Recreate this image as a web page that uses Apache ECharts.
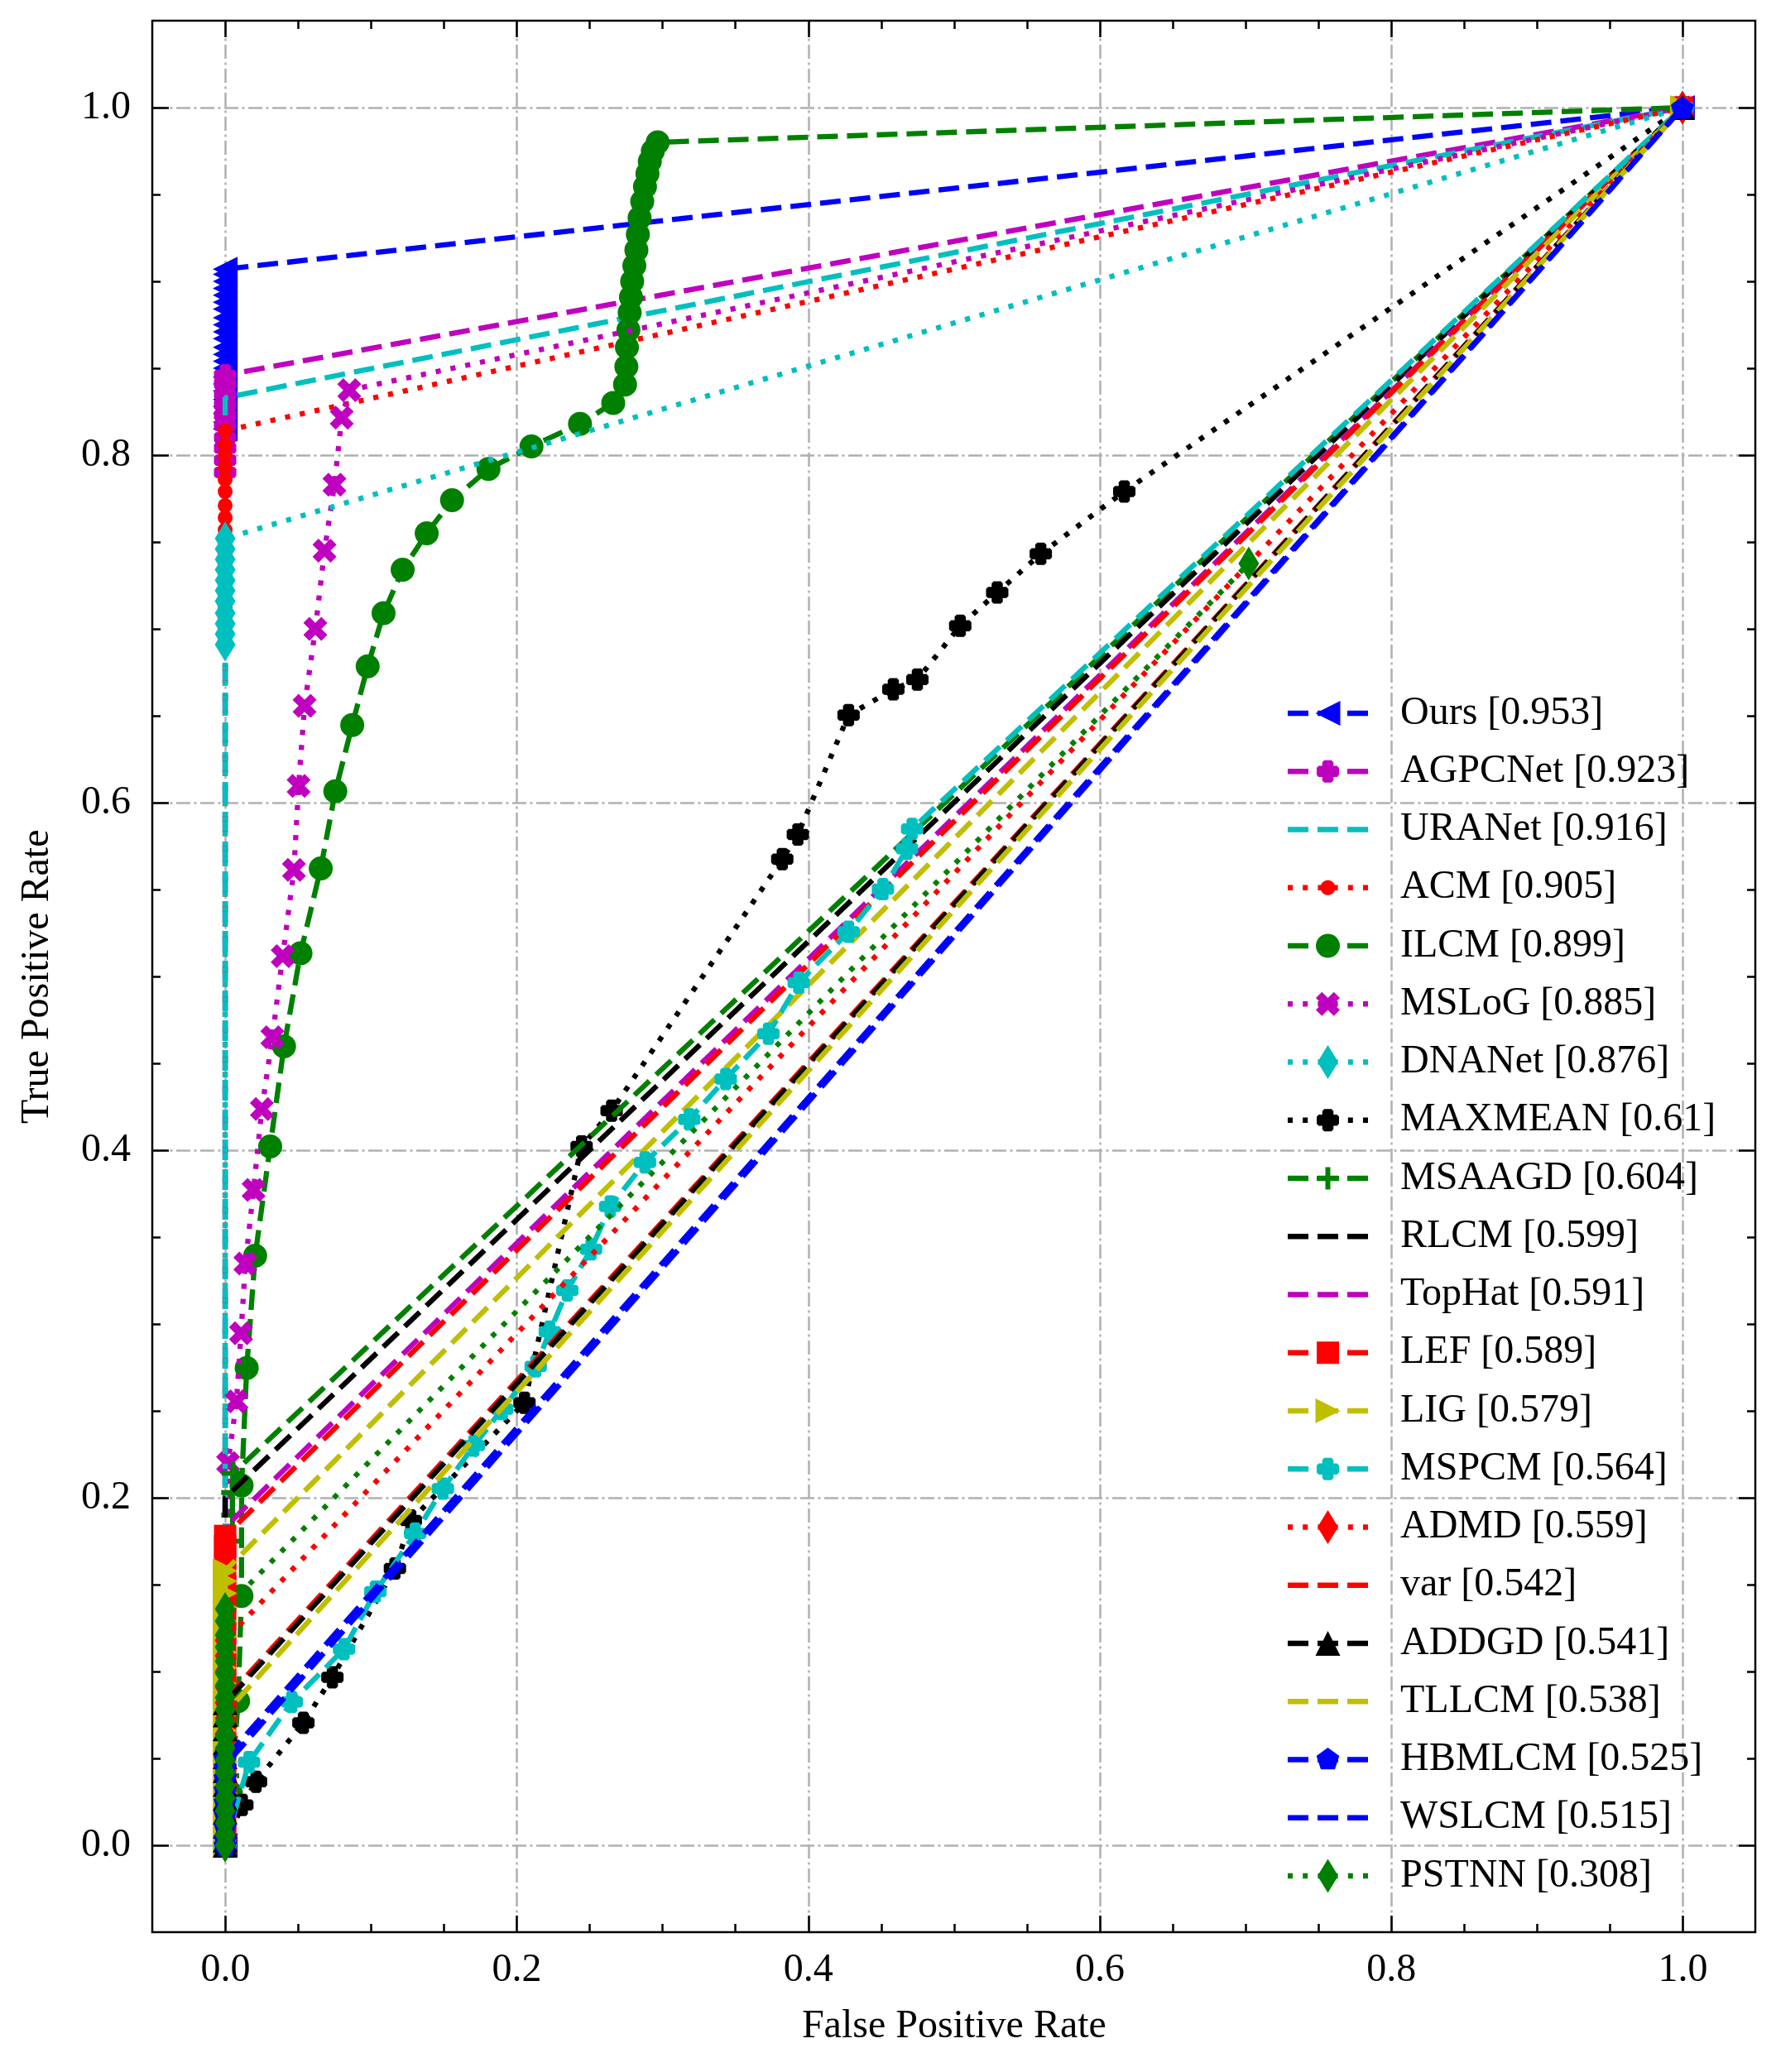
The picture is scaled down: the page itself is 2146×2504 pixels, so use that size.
<!DOCTYPE html>
<html><head><meta charset="utf-8">
<script src="https://cdn.jsdelivr.net/npm/echarts@6/dist/echarts.min.js"></script>
<style>html,body{margin:0;padding:0;background:#fff}#c{width:2146px;height:2504px}</style>
</head><body><div id="c"></div>
<script>
// ---------------- DATA ----------------
const NAMES = ['Ours','AGPCNet','URANet','ACM','ILCM','MSLoG','DNANet','MAXMEAN','MSAAGD','RLCM','TopHat','LEF','LIG','MSPCM','ADMD','var','ADDGD','TLLCM','HBMLCM','WSLCM','PSTNN'];
const AUCS = ['0.953','0.923','0.916','0.905','0.899','0.885','0.876','0.61','0.604','0.599','0.591','0.589','0.579','0.564','0.559','0.542','0.541','0.538','0.525','0.515','0.308'];
const X_TICKS = [0, 0.2, 0.4, 0.6, 0.8, 1.0];
const Y_TICKS = [0, 0.2, 0.4, 0.6, 0.8, 1.0];

const OURS = [[0,0],[0,0.815],[0,0.819],[0,0.824],[0,0.828],[0,0.832],[0,0.837],[0,0.841],[0,0.845],[0,0.85],[0,0.854],[0,0.858],[0,0.862],[0,0.867],[0,0.871],[0,0.875],[0,0.879],[0,0.884],[0,0.888],[0,0.892],[0,0.896],[0,0.9],[0,0.904],[0,0.907],[1,1]];
const AGPCNET = [[0,0],[0,0.79],[0,0.797],[0,0.804],[0,0.81],[0,0.817],[0,0.823],[0,0.829],[0,0.835],[0,0.841],[0,0.846],[1,1]];
const URANET = [[0,0],[0,0.833],[1,1]];
const ACM = [[0,0],[0,0.69],[0,0.697],[0,0.705],[0,0.712],[0,0.72],[0,0.727],[0,0.734],[0,0.742],[0,0.749],[0,0.757],[0,0.764],[0,0.771],[0,0.779],[0,0.786],[0,0.793],[0,0.8],[0,0.806],[0,0.814],[1,1]];
const ILCM = [[0,0],[0.004,0.03],[0.0089,0.083],[0.0112,0.1435],[0.0113,0.207],[0.0148,0.2747],[0.0206,0.3393],[0.0309,0.4022],[0.0404,0.4598],[0.0517,0.5133],[0.0656,0.5622],[0.0756,0.6065],[0.0872,0.6446],[0.0978,0.6784],[0.1087,0.709],[0.1218,0.734],[0.1383,0.755],[0.1557,0.774],[0.1807,0.792],[0.2102,0.805],[0.2435,0.818],[0.2663,0.83],[0.2744,0.8406],[0.2753,0.851],[0.2757,0.862],[0.2767,0.872],[0.2776,0.882],[0.2785,0.891],[0.2793,0.9],[0.2808,0.909],[0.2822,0.918],[0.2832,0.927],[0.2844,0.9365],[0.2862,0.946],[0.2881,0.9545],[0.2898,0.962],[0.2914,0.969],[0.2935,0.975],[0.2968,0.98],[1,1]];
const MSLOG = [[0,0],[0.002,0.22],[0.0078,0.2555],[0.0109,0.2947],[0.0139,0.3348],[0.0195,0.3772],[0.0252,0.4237],[0.0324,0.465],[0.0395,0.5117],[0.0472,0.5613],[0.0504,0.6096],[0.0545,0.6557],[0.0619,0.7],[0.0682,0.745],[0.075,0.783],[0.08,0.8215],[0.0852,0.8374],[1,1]];
const DNANET = [[0,0],[0,0.691],[0,0.697],[0,0.703],[0,0.709],[0,0.716],[0,0.722],[0,0.728],[0,0.734],[0,0.74],[0,0.746],[0,0.752],[1,1]];
const MAXMEAN = [[0,0],[0.0118,0.0232],[0.0212,0.0366],[0.0537,0.0705],[0.0736,0.0967],[0.1165,0.1593],[0.1274,0.1869],[0.2054,0.2546],[0.2446,0.4022],[0.2652,0.4227],[0.3823,0.5675],[0.393,0.5817],[0.4278,0.6504],[0.4585,0.6652],[0.475,0.6708],[0.5044,0.7018],[0.5298,0.7209],[0.5597,0.7432],[0.617,0.7791],[1,1]];
const MSAAGD = [[0,0],[0.002,0.04],[0.003,0.09],[0.004,0.14],[0.004,0.175],[0.005,0.19],[0.005,0.203],[0.0054,0.214],[1,1]];
const RLCM = [[0,0],[0,0.2],[1,1]];
const TOPHAT = [[0,0],[0,0.183],[1,1]];
const LEF = [[0,0],[0,0.006],[0,0.014],[0,0.022],[0,0.031],[0,0.04],[0,0.049],[0,0.058],[0,0.067],[0,0.076],[0,0.085],[0,0.095],[0,0.104],[0,0.113],[0,0.122],[0,0.131],[0,0.14],[0,0.149],[0,0.157],[0,0.165],[0,0.172],[0,0.178],[1,1]];
const LIG = [[0,0],[0,0.005],[0,0.013],[0,0.021],[0,0.03],[0,0.039],[0,0.048],[0,0.057],[0,0.066],[0,0.075],[0,0.084],[0,0.093],[0,0.102],[0,0.111],[0,0.12],[0,0.129],[0,0.137],[0,0.145],[0,0.152],[0,0.158],[1,1]];
const MSPCM = [[0,0],[0.0164,0.0478],[0.0457,0.0825],[0.0816,0.1129],[0.1031,0.1459],[0.1304,0.1794],[0.1494,0.2052],[0.1707,0.23],[0.1902,0.251],[0.2131,0.2756],[0.2228,0.2956],[0.2348,0.3193],[0.2511,0.343],[0.2642,0.3676],[0.2881,0.393],[0.3185,0.4177],[0.3435,0.441],[0.3728,0.467],[0.3936,0.4964],[0.4278,0.5257],[0.4514,0.5502],[0.4679,0.5735],[0.4714,0.5849],[1,1]];
const ADMD = [[0,0],[0,0.004],[0,0.012],[0,0.02],[0,0.028],[0,0.037],[0,0.046],[0,0.055],[0,0.064],[0,0.073],[0,0.082],[0,0.091],[0,0.1],[0,0.109],[0,0.118],[1,1]];
const VAR = [[0,0],[0,0.084],[1,1]];
const ADDGD = [[0,0],[0,0.003],[0,0.011],[0,0.019],[0,0.027],[0,0.035],[0,0.043],[0,0.051],[0,0.059],[0,0.067],[0,0.075],[0,0.082],[1,1]];
const TLLCM = [[0,0],[0,0.076],[1,1]];
const HBMLCM = [[0,0],[0,0.004],[0,0.011],[0,0.018],[0,0.025],[0,0.032],[0,0.039],[0,0.045],[0,0.05],[1,1]];
const WSLCM = [[0,0],[0,0.046],[1,1]];
const PSTNN = [[0,0],[0,0.006],[0,0.013],[0,0.02],[0,0.027],[0,0.034],[0,0.042],[0,0.049],[0,0.056],[0,0.063],[0,0.071],[0,0.078],[0,0.085],[0,0.092],[0,0.099],[0,0.106],[0,0.114],[0,0.121],[0,0.129],[0,0.136],[0.7024,0.7376]];

const SERIES_DATA = [OURS,AGPCNET,URANET,ACM,ILCM,MSLOG,DNANET,MAXMEAN,MSAAGD,RLCM,TOPHAT,LEF,LIG,MSPCM,ADMD,VAR,ADDGD,TLLCM,HBMLCM,WSLCM,PSTNN];

// ---------------- STYLES ----------------
const C = {b:'#0000ff', m:'#bf00bf', c:'#00bfbf', r:'#ff0000', g:'#008000', k:'#000000', y:'#bfbf00'};
const STYLES = [
  {c:C.b, ls:'dashed', m:'triLeft',  s:[30,30]},
  {c:C.m, ls:'dashed', m:'plusFilled', s:[27,27]},
  {c:C.c, ls:'dashed', m:null},
  {c:C.r, ls:'dotted', m:'circle', s:[18,18]},
  {c:C.g, ls:'dashed', m:'circle', s:[29,29]},
  {c:C.m, ls:'dotted', m:'xFilled', s:[29,29]},
  {c:C.c, ls:'dotted', m:'diamond', s:[25,41]},
  {c:C.k, ls:'dotted', m:'plusFilled', s:[27,27]},
  {c:C.g, ls:'dashed', m:'plusThin', s:[27,27]},
  {c:C.k, ls:'dashed', m:null},
  {c:C.m, ls:'dashed', m:null},
  {c:C.r, ls:'dashed', m:'square', s:[27,27]},
  {c:C.y, ls:'dashed', m:'triRight', s:[30,30]},
  {c:C.c, ls:'dashed', m:'plusFilled', s:[27,27]},
  {c:C.r, ls:'dotted', m:'diamond', s:[25,41]},
  {c:C.r, ls:'dashed', m:null},
  {c:C.k, ls:'dashed', m:'triUp', s:[30,30]},
  {c:C.y, ls:'dashed', m:null},
  {c:C.b, ls:'dashed', m:'pentagon', s:[28,27]},
  {c:C.b, ls:'dashed', m:null},
  {c:C.g, ls:'dotted', m:'diamond', s:[25,41]}
];
const LW = 6.3;
const DASH = {dashed:[25,11], dotted:[6.2,12]};
const FONT = "'Liberation Serif','Times New Roman',Times,serif";

function ngon(n, start){ const p=[]; for(let k=0;k<n;k++){const a=start+2*Math.PI*k/n; p.push([0.5*Math.cos(a),0.5*Math.sin(a)]);} return p; }
function roundedPlus(a, c){
  return [[-a,-0.5+c],[-a+c,-0.5],[a-c,-0.5],[a,-0.5+c],[a,-a],
          [0.5-c,-a],[0.5,-a+c],[0.5,a-c],[0.5-c,a],[a,a],
          [a,0.5-c],[a-c,0.5],[-a+c,0.5],[-a,0.5-c],[-a,a],
          [-0.5+c,a],[-0.5,a-c],[-0.5,-a+c],[-0.5+c,-a],[-a,-a]];
}
const a2 = 0.11;
const MARK = {
  triLeft: [[-0.5,0],[0.5,-0.5],[0.5,0.5]],
  triRight: [[0.5,0],[-0.5,0.5],[-0.5,-0.5]],
  triUp: [[0,-0.5],[0.5,0.5],[-0.5,0.5]],
  square: [[-0.5,-0.5],[0.5,-0.5],[0.5,0.5],[-0.5,0.5]],
  diamond: [[0,-0.5],[0.5,0],[0,0.5],[-0.5,0]],
  plusFilled: roundedPlus(0.25, 0.09),
  plusThin: [[-a2,-0.5],[a2,-0.5],[a2,-a2],[0.5,-a2],[0.5,a2],[a2,a2],[a2,0.5],[-a2,0.5],[-a2,a2],[-0.5,a2],[-0.5,-a2],[-a2,-a2]],
  xFilled: [[-1,-2],[0,-1],[1,-2],[2,-1],[1,0],[2,1],[1,2],[0,1],[-1,2],[-2,1],[-1,0],[-2,-1]].map(p=>[p[0]/4,p[1]/4]),
  circle: ngon(40, 0),
  pentagon: ngon(5, -Math.PI/2)
};
function area(pts){let s=0;for(let i=0;i<pts.length;i++){const a=pts[i],b=pts[(i+1)%pts.length];s+=a[0]*b[1]-b[0]*a[1];}return s;}
function poly(pts,sx,sy,cx,cy){ if(area(pts)<0) pts=pts.slice().reverse(); return 'M'+pts.map(p=>(cx+p[0]*sx).toFixed(2)+','+(cy+p[1]*sy).toFixed(2)).join('L')+'Z'; }
function rect(x,y,w,h){ return 'M'+x+','+y+'H'+(x+w)+'V'+(y+h)+'H'+x+'Z'; }
function symbolFor(m){ return m==='circle' ? 'circle' : 'path://'+poly(MARK[m],100,100,50,50); }

const IW = 131, IH = 41, HL = 97;
function legendIcon(st){
  let d='';
  const y0 = IH/2 - LW/2;
  const segs = st.ls==='dashed' ? [[0,25],[36,61],[72,97]] : [[0,6],[18.2,24.2],[36.4,42.4],[54.6,60.6],[72.8,78.8],[91,97]];
  segs.forEach(s=>{ d += rect(s[0], +y0.toFixed(2), +(s[1]-s[0]).toFixed(2), LW); });
  if (st.m){
    let w = st.s[0], h = st.s[1];
    if (st.m==='pentagon'){ w = 29; h = 29; }
    d += poly(MARK[st.m], w, h, HL/2, IH/2);
  }
  d += 'M0,0L0.01,0L0,0.01Z' + 'M'+IW+','+IH+'L'+(IW-0.01)+','+IH+'L'+IW+','+(IH-0.01)+'Z';
  return 'path://'+d;
}

const labels = NAMES.map((n,i)=> n+' ['+AUCS[i]+']');
const series = SERIES_DATA.map((d,i)=>{
  const st = STYLES[i];
  return {
    type:'line', name: labels[i], data: d, xAxisIndex:0, yAxisIndex:0,
    symbol: st.m ? symbolFor(st.m) : 'none', symbolSize: st.m ? st.s : 0,
    showSymbol: !!st.m, showAllSymbol: true, symbolKeepAspect:false,
    lineStyle:{color:st.c, width:LW, type:DASH[st.ls], cap:'butt'},
    itemStyle:{color:st.c, borderWidth:0},
    emphasis:{disabled:true}, silent:true, z: 3+i, clip:true
  };
});

const tickStyle = {color:'#000', width:2.5};
const gridLine = {show:true, lineStyle:{color:'#b0b0b0', width:2.5, type:[17,4.5,3,4.5]}};
const labelStyle = {fontFamily:FONT, fontSize:48, color:'#000', lineHeight:48};
function majorAxis(extra){
  return Object.assign({
    type:'value', min:0, max:1, interval:0.2,
    axisLine:{show:false, onZero:false},
    axisTick:{show:true, inside:true, length:20, lineStyle:tickStyle},
    minorTick:{show:true, splitNumber:4, length:10, lineStyle:tickStyle},
    splitLine:{show:false}, axisLabel:{show:false}
  }, extra);
}
const hiddenAxis = (g)=>({type:'value', gridIndex:g, min:-0.05, max:1.05, show:false, axisLine:{onZero:false}});

const option = {
  animation:false, backgroundColor:'#fff',
  grid:[
    {left:184, top:25, width:1937, height:2310, show:true, borderColor:'#000', borderWidth:2.5, backgroundColor:'transparent', containLabel:false, outerBoundsMode:'none'},
    {left:272.4, top:25, width:1761, height:2310, containLabel:false, outerBoundsMode:'none'},
    {left:184, top:130.3, width:1937, height:2100, containLabel:false, outerBoundsMode:'none'}
  ],
  xAxis:[
    hiddenAxis(0),
    majorAxis({gridIndex:1, position:'bottom', splitLine:gridLine,
      axisLabel:Object.assign({show:true, margin:22, formatter:v=>X_TICKS.some(t=>Math.abs(t-v)<1e-9)?v.toFixed(1):''}, labelStyle),
      name:'False Positive Rate', nameLocation:'middle', nameGap:90, nameTextStyle:labelStyle}),
    majorAxis({gridIndex:1, position:'top'}),
    hiddenAxis(2)
  ],
  yAxis:[
    hiddenAxis(0),
    hiddenAxis(1),
    majorAxis({gridIndex:2, position:'left', splitLine:gridLine,
      axisLabel:Object.assign({show:true, margin:26, formatter:v=>Y_TICKS.some(t=>Math.abs(t-v)<1e-9)?v.toFixed(1):''}, labelStyle),
      name:'True Positive Rate', nameLocation:'middle', nameGap:115, nameTextStyle:labelStyle}),
    majorAxis({gridIndex:2, position:'right'})
  ],
  legend:{
    show:true, orient:'vertical', left:1556, top:838, padding:0,
    itemWidth:IW, itemHeight:IH, itemGap:22.25, selectedMode:false, z:100,
    textStyle:{fontFamily:FONT, fontSize:48, color:'#000', lineHeight:40},
    data: labels.map((n,i)=>({name:n, icon:legendIcon(STYLES[i]), itemStyle:{color:STYLES[i].c, borderWidth:0, opacity:1}}))
  },
  series
};
const chart = echarts.init(document.getElementById('c'), null, {renderer:'canvas', width:2146, height:2504});
chart.setOption(option);
</script></body></html>
